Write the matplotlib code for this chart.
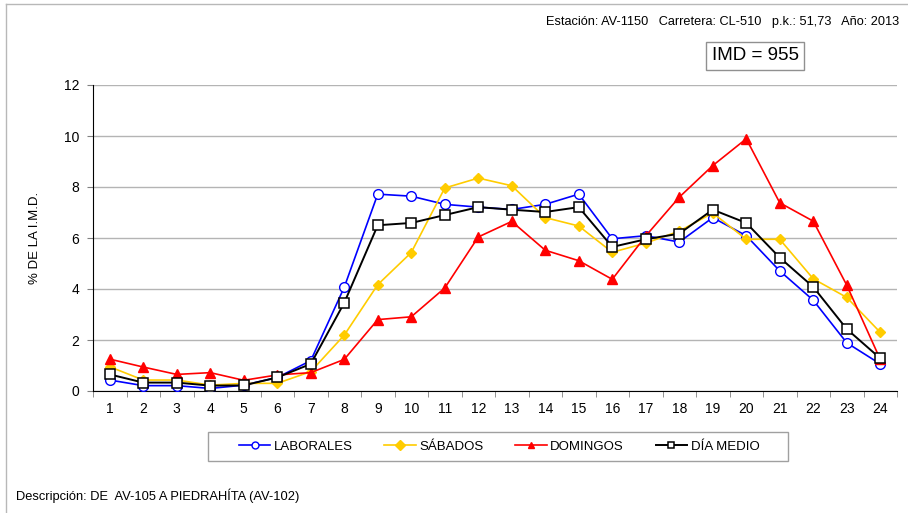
import matplotlib
matplotlib.use('Agg')
import matplotlib.pyplot as plt
from matplotlib.lines import Line2D
from matplotlib.patches import Rectangle

plt.rcParams['font.family'] = ['Liberation Sans', 'DejaVu Sans']

# hourly share of the IMD (%)
hours = list(range(1, 25))
laborales = [0.43, 0.21, 0.21, 0.10, 0.23, 0.53, 1.19, 4.07, 7.72, 7.64, 7.32, 7.21,
             7.12, 7.32, 7.72, 5.97, 6.09, 5.84, 6.80, 6.09, 4.71, 3.56, 1.89, 1.06]
sabados = [0.95, 0.43, 0.43, 0.23, 0.30, 0.30, 0.76, 2.19, 4.17, 5.43, 7.96, 8.35,
           8.05, 6.80, 6.47, 5.44, 5.80, 6.27, 6.98, 5.95, 5.95, 4.40, 3.67, 2.30]
domingos = [1.25, 0.94, 0.65, 0.72, 0.42, 0.63, 0.72, 1.24, 2.80, 2.91, 4.04, 6.04,
            6.65, 5.52, 5.11, 4.38, 6.08, 7.60, 8.84, 9.89, 7.38, 6.66, 4.15, 1.24]
dia_medio = [0.65, 0.33, 0.33, 0.21, 0.22, 0.53, 1.06, 3.46, 6.50, 6.59, 6.90, 7.21,
             7.11, 7.02, 7.21, 5.65, 5.95, 6.17, 7.11, 6.59, 5.23, 4.08, 2.43, 1.28]

header = 'Estación: AV-1150   Carretera: CL-510   p.k.: 51,73   Año: 2013'
imd_text = 'IMD = 955'
description = 'Descripción: DE  AV-105 A PIEDRAHÍTA (AV-102)'

W, H = 908, 513
fig = plt.figure(figsize=(W / 100, H / 100), dpi=100)

# frame lines (left and top) around the sheet
fig.add_artist(Line2D([6/W, 6/W], [0, 1 - 4/H], transform=fig.transFigure,
                      color='#b8b8b8', lw=1))
fig.add_artist(Line2D([6/W, 1], [1 - 4/H, 1 - 4/H], transform=fig.transFigure,
                      color='#b8b8b8', lw=1))

ax = fig.add_axes([93/W, 1 - 391/H, (897 - 93)/W, (391 - 85)/H])

ax.plot(hours, laborales, color='#0000ff', lw=1.2, marker='o', ms=7,
        mfc='white', mec='#0000ff', mew=1.0, label='LABORALES', zorder=3)
ax.plot(hours, sabados, color='#ffcc00', lw=1.2, marker='D', ms=5.5,
        mfc='#ffcc00', mec='#ffcc00', label='SÁBADOS', zorder=3)
ax.plot(hours, domingos, color='#ff0000', lw=1.2, marker='^', ms=7.5,
        mfc='#ff0000', mec='#ff0000', label='DOMINGOS', zorder=3)
ax.plot(hours, dia_medio, color='black', lw=1.4, marker='s', ms=7,
        mfc='white', mec='black', mew=1.1, label='DÍA MEDIO', zorder=4)

ax.set_xlim(0.5, 24.5)
ax.set_ylim(0, 12)
ax.set_yticks(range(0, 13, 2))
ax.set_xticks(hours)
ax.set_xticks([h + 0.5 for h in range(0, 25)], minor=True)
ax.tick_params(axis='x', which='major', length=0, labelsize=10, pad=8)
ax.tick_params(axis='x', which='minor', length=4, color='#808080', direction='out')
ax.tick_params(axis='y', length=4, color='#808080', labelsize=10, pad=6)

ax.grid(axis='y', color='#b4b4b4', lw=1)
ax.set_axisbelow(True)
for s in ['top', 'right']:
    ax.spines[s].set_visible(False)
ax.spines['left'].set_color('black')
ax.spines['bottom'].set_color('black')

ax.set_ylabel('% DE LA I.M.D.', fontsize=9.5, labelpad=16)

# legend box drawn separately so the wide side padding matches
fig.add_artist(Rectangle((208/W, 1 - 461/H), (788 - 208)/W, (461 - 432)/H,
                         transform=fig.transFigure, fc='white', ec='#a0a0a0', lw=1))
leg = fig.legend(loc='center', bbox_to_anchor=(499/W, 1 - 446.5/H), ncol=4,
                 fontsize=9.5, frameon=False, handlelength=2.4,
                 handletextpad=0.25, columnspacing=2.4)
for h in leg.legend_handles:
    h.set_markersize(5)

fig.text(899/W, 1 - 22/H, header, ha='right', va='center', fontsize=9.2)
fig.text(755/W, 1 - 56/H, imd_text, ha='center', va='center', fontsize=13.5,
         bbox=dict(boxstyle='square,pad=0.3', fc='white', ec='#909090', lw=1))
fig.text(16/W, 1 - 496/H, description, ha='left', va='center', fontsize=9.3)

fig.savefig('out.png', dpi=100)
